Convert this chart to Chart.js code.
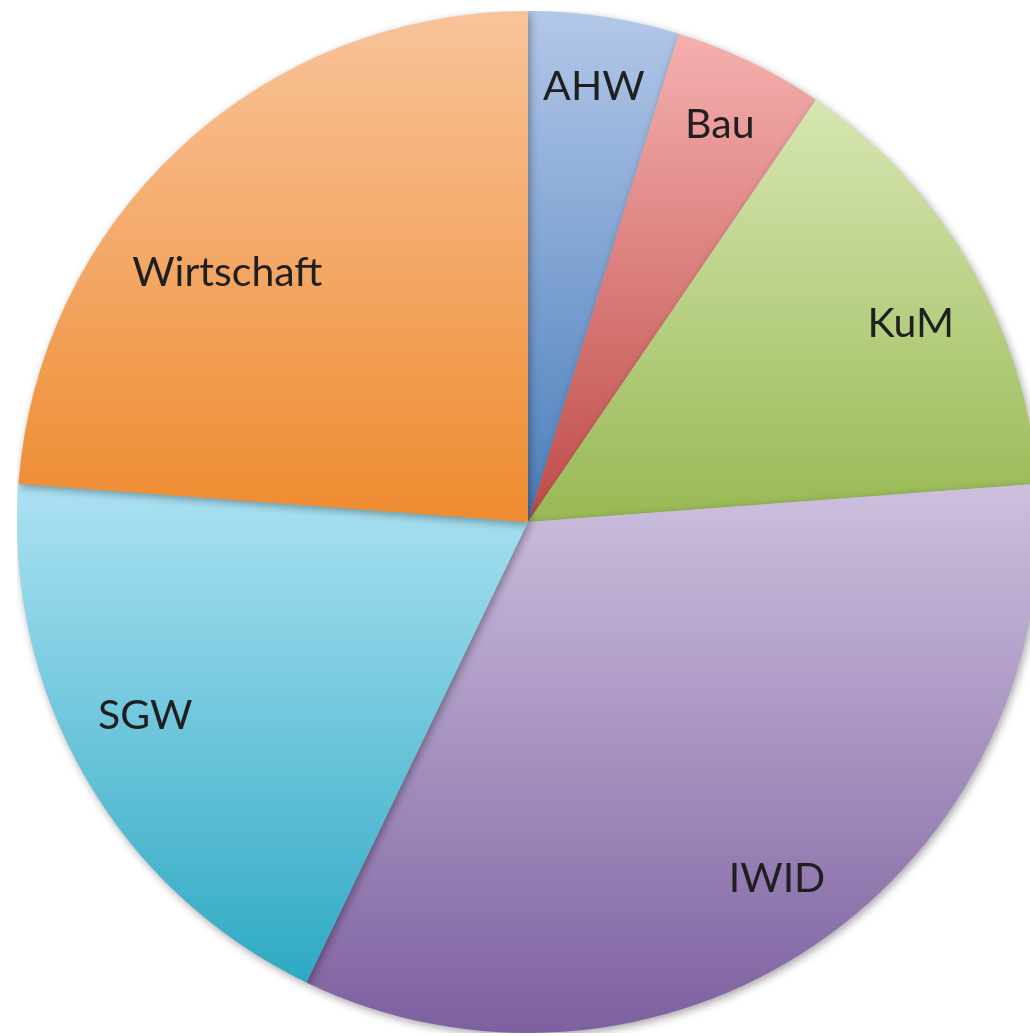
<!DOCTYPE html>
<html>
<head>
<meta charset="utf-8">
<script src="https://cdn.jsdelivr.net/npm/chart.js@4.4.0/dist/chart.umd.min.js"></script>
<style>
html,body{margin:0;padding:0;background:#fff;overflow:hidden;width:1030px;height:1036px;}
#wrap{position:absolute;left:17px;top:11px;width:1022px;height:1022px;}
</style>
</head>
<body>
<div id="wrap"><canvas id="c" width="1022" height="1022"></canvas></div>
<script>
const categories = ["AHW", "Bau", "KuM", "IWID", "SGW", "Wirtschaft"];
const values = [1, 1, 3, 7, 4, 5];
const topColors = ["#b3c7e8", "#f5b0af", "#d7e6b2", "#cdc0de", "#ace2f3", "#f9c39a"];
const bottomColors = ["#4a7ebb", "#be4b48", "#98b954", "#7d60a0", "#2ea9c3", "#ee8b2f"];

const total = values.reduce((a, b) => a + b, 0);

function sliceGradient(ctx) {
  const chart = ctx.chart;
  const i = ctx.dataIndex;
  const area = chart.chartArea;
  if (!area) return bottomColors[i];
  const cx = (area.left + area.right) / 2;
  const cy = (area.top + area.bottom) / 2;
  const R = Math.min(area.right - area.left, area.bottom - area.top) / 2;
  let a0 = 0;
  for (let k = 0; k < i; k++) a0 += values[k] / total * 2 * Math.PI;
  const a1 = a0 + values[i] / total * 2 * Math.PI;
  const ys = [cy, cy - R * Math.cos(a0), cy - R * Math.cos(a1)];
  if (a0 <= 1e-9) ys.push(cy - R);
  if (a0 <= Math.PI && a1 >= Math.PI) ys.push(cy + R);
  const y0 = Math.min(...ys), y1 = Math.max(...ys);
  const g = chart.ctx.createLinearGradient(0, y0, 0, y1);
  g.addColorStop(0, topColors[i]);
  g.addColorStop(1, bottomColors[i]);
  return g;
}

const shadowPlugin = {
  id: 'shadow',
  beforeDatasetsDraw(chart) {
    const c = chart.ctx;
    c.save();
    c.shadowColor = 'rgba(0,0,0,0.35)';
    c.shadowBlur = 8;
    c.shadowOffsetX = 2;
    c.shadowOffsetY = 3;
  },
  afterDatasetsDraw(chart) {
    chart.ctx.restore();
  }
};

const labelPlugin = {
  id: 'insideLabels',
  afterDraw(chart) {
    const c = chart.ctx;
    const meta = chart.getDatasetMeta(0);
    const fontSize = 41;
    const capH = fontSize * 0.716;
    c.save();
    c.font = fontSize + 'px Lato, "Open Sans", sans-serif';
    c.fillStyle = '#1f1f1f';
    c.textAlign = 'center';
    c.textBaseline = 'alphabetic';
    meta.data.forEach((arc, i) => {
      const p = arc.getProps(['x', 'y', 'startAngle', 'endAngle', 'outerRadius']);
      const R = p.outerRadius;
      const mid = (p.startAngle + p.endAngle) / 2;
      const w = c.measureText(categories[i]).width;
      const h = 44;
      const T = R * 0.94;
      const d0 = R * 0.865;
      let lx = d0 * Math.cos(mid), ly = d0 * Math.sin(mid);
      const farCorner = (x, y) => {
        let m = 0;
        for (const sx of [-1, 1]) for (const sy of [-1, 1]) {
          m = Math.max(m, Math.hypot(x + sx * w / 2, y + sy * h / 2));
        }
        return m;
      };
      if (farCorner(lx, ly) > T) {
        // push vertically toward the centre until the box fits
        let lo = 0, hi = 1;
        for (let it = 0; it < 40; it++) {
          const t = (lo + hi) / 2;
          if (farCorner(lx, ly * (1 - t)) > T) lo = t; else hi = t;
        }
        ly = ly * (1 - hi);
      }
      c.fillText(categories[i], p.x + lx, p.y + ly + capH / 2);
    });
    c.restore();
  }
};

new Chart(document.getElementById('c'), {
  type: 'pie',
  data: {
    labels: categories,
    datasets: [{
      data: values,
      backgroundColor: sliceGradient,
      borderWidth: 0
    }]
  },
  options: {
    responsive: false,
    animation: false,
    layout: { padding: 0 },
    plugins: {
      legend: { display: false },
      tooltip: { enabled: false }
    }
  },
  plugins: [shadowPlugin, labelPlugin]
});
</script>
</body>
</html>
